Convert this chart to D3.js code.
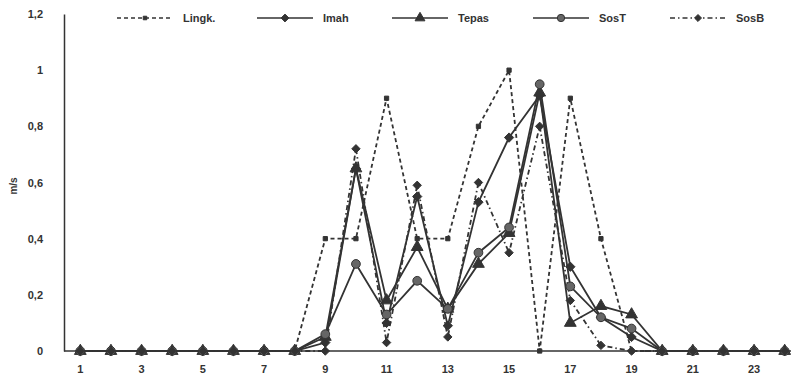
<!DOCTYPE html>
<html>
<head>
<meta charset="utf-8">
<script src="https://cdn.jsdelivr.net/npm/d3@7"></script>
<style>
  body { margin: 0; background: #fff; }
  text { font-family: "Liberation Sans", Arial, sans-serif; font-weight: bold; fill: #333; }
</style>
</head>
<body>
<div id="chart"></div>
<script>
// hours 1..24
var hours = d3.range(1, 25);
var yTicks = [0, 0.2, 0.4, 0.6, 0.8, 1, 1.2];
var seriesNames = ["Lingk.", "Imah", "Tepas", "SosT", "SosB"];

var lingk = [0, 0, 0, 0, 0, 0, 0, 0, 0.4, 0.4, 0.9, 0.4, 0.4, 0.8, 1.0, 0, 0.9, 0.4, 0, 0, 0, 0, 0, 0];
var imah  = [0, 0, 0, 0, 0, 0, 0, 0, 0.03, 0.65, 0.1, 0.55, 0.09, 0.53, 0.76, 0.91, 0.3, 0.12, 0.05, 0, 0, 0, 0, 0];
var tepas = [0, 0, 0, 0, 0, 0, 0, 0, 0.05, 0.65, 0.18, 0.37, 0.15, 0.31, 0.42, 0.92, 0.1, 0.16, 0.13, 0, 0, 0, 0, 0];
var sosT  = [0, 0, 0, 0, 0, 0, 0, 0, 0.06, 0.31, 0.13, 0.25, 0.15, 0.35, 0.44, 0.95, 0.23, 0.12, 0.08, 0, 0, 0, 0, 0];
var sosB  = [0, 0, 0, 0, 0, 0, 0, 0, 0, 0.72, 0.03, 0.59, 0.05, 0.6, 0.35, 0.8, 0.18, 0.02, 0, 0, 0, 0, 0, 0];

var allValues = [lingk, imah, tepas, sosT, sosB];

var diamond = d3.symbolDiamond2 || d3.symbolDiamond;

// style per series
var styles = [
  { dash: "4,3", symbol: d3.symbolSquare, size: 18, fill: "#333" },
  { dash: null, symbol: diamond, size: 55, fill: "#333" },
  { dash: null, symbol: d3.symbolTriangle, size: 60, fill: "#333" },
  { dash: null, symbol: d3.symbolCircle, size: 60, fill: "#666" },
  { dash: "5,3,1.5,3", symbol: diamond, size: 45, fill: "#333" }
];

var W = 791, H = 389;
var svg = d3.select("#chart")
  .append("svg")
  .attr("width", W)
  .attr("height", H);

var x = d3.scaleBand()
  .domain(hours)
  .range([65, 800]);

var y = d3.scaleLinear()
  .domain([0, 1.2])
  .range([351, 14]);

var cx = function (h) { return x(h) + x.bandwidth() / 2; };

// X axis
var xAxis = svg.append("g")
  .attr("transform", "translate(0,351)")
  .call(d3.axisBottom(x)
    .tickSize(0)
    .tickSizeOuter(0)
    .tickPadding(14)
    .tickFormat(function (d) { return d % 2 === 1 ? d : ""; }));
xAxis.select(".domain").attr("stroke", "#333").attr("stroke-width", 1.5)
  .attr("d", "M64,0H800");
xAxis.selectAll("text").style("font-size", "11px");

// Y axis
var yAxis = svg.append("g")
  .attr("transform", "translate(64,0)")
  .call(d3.axisLeft(y)
    .tickValues(yTicks)
    .tickSize(0)
    .tickPadding(21)
    .tickFormat(function (d) { return String(d).replace(".", ","); }));
yAxis.select(".domain").attr("stroke", "#333").attr("stroke-width", 1.5);
yAxis.selectAll("text").style("font-size", "11px");

svg.append("text")
  .attr("transform", "translate(17,186) rotate(-90)")
  .attr("text-anchor", "middle")
  .style("font-size", "10px")
  .text("m/s");

var line = d3.line()
  .x(function (d, i) { return cx(hours[i]); })
  .y(function (d) { return y(d); });

// lines and markers
allValues.forEach(function (vals, k) {
  var st = styles[k];
  svg.append("path")
    .datum(vals)
    .attr("d", line)
    .attr("fill", "none")
    .attr("stroke", "#333")
    .attr("stroke-width", 1.8)
    .attr("stroke-dasharray", st.dash);
});

allValues.forEach(function (vals, k) {
  var st = styles[k];
  svg.append("g")
    .selectAll("path")
    .data(vals)
    .join("path")
    .attr("transform", function (d, i) { return "translate(" + cx(hours[i]) + "," + y(d) + ")"; })
    .attr("d", d3.symbol().type(st.symbol).size(st.size))
    .attr("fill", st.fill)
    .attr("stroke", "#333")
    .attr("stroke-width", 1);
});

// legend
var legendX = [117, 257, 392, 533, 670];
var legend = svg.append("g");
seriesNames.forEach(function (name, k) {
  var st = styles[k];
  var g = legend.append("g").attr("transform", "translate(" + legendX[k] + ",18)");
  g.append("line")
    .attr("x1", 0).attr("x2", 56).attr("y1", 0).attr("y2", 0)
    .attr("stroke", "#333")
    .attr("stroke-width", 1.5)
    .attr("stroke-dasharray", st.dash);
  g.append("path")
    .attr("transform", "translate(28,0)")
    .attr("d", d3.symbol().type(st.symbol).size(st.size * 0.7))
    .attr("fill", st.fill)
    .attr("stroke", "#333");
  g.append("text")
    .attr("x", 66)
    .attr("y", 4)
    .style("font-size", "11px")
    .text(name);
});
</script>
</body>
</html>
